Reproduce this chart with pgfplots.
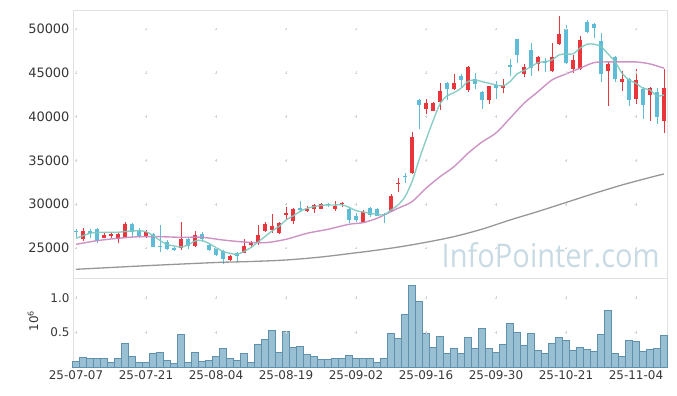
\documentclass[border=0pt]{standalone}
\usepackage{fontspec}
\setmainfont{DejaVu Sans}
\newfontfamily\wmfont{Open Sans}
\usepackage{pgfplots}
\pgfplotsset{compat=1.18}
\usepackage{pgfplotstable}
\definecolor{cup}{RGB}{232,54,60}
\definecolor{cdn}{RGB}{95,188,214}
\definecolor{maA}{RGB}{125,200,190}
\definecolor{maB}{RGB}{200,135,190}
\definecolor{maC}{RGB}{140,140,140}
\definecolor{framec}{RGB}{225,225,225}
\definecolor{gridc}{RGB}{212,212,212}
\definecolor{lbl}{RGB}{55,55,55}
\definecolor{volf}{RGB}{152,192,210}
\definecolor{vold}{RGB}{95,145,175}
\definecolor{wm}{RGB}{200,218,228}

\pgfplotstableread{
x o h l c
1 26030 27250 25830 26975
4 26180 26680 26110 26485
5 26400 26790 26140 26560
6 25990 26680 25530 26560
7 26290 27970 26150 27740
10 26370 27055 26140 26830
15 25030 28000 24800 26030
17 25260 26980 25150 26450
22 23660 24200 23550 24090
24 24460 26030 24390 25230
25 25340 25830 24960 25600
26 25600 27630 25340 26480
27 26975 28000 26860 27740
28 27055 28880 26680 27510
29 26680 28000 26600 27890
30 28800 29650 28300 29030
31 28120 29530 27740 29420
33 29190 29830 29080 29450
34 29490 30020 29030 29910
35 29490 30100 29420 30020
37 29420 30330 29260 29800
38 29990 30290 29650 30100
41 28000 29340 27890 29080
45 29260 31130 29140 30940
46 32310 32960 31430 32460
48 33560 38280 33450 37680
50 40870 42000 40270 41520
51 40650 41710 40590 41520
52 41710 43880 40760 42930
54 43160 44870 43040 43810
56 43040 45780 42850 45650
59 41900 43550 41440 43500
61 43240 44260 42670 43610
64 44870 46000 44560 45640
66 46010 46920 45250 46780
68 45160 48440 45100 46780
69 48260 51450 48200 49440
71 45440 47040 45020 46470
72 45440 49200 45300 48750
76 45250 46270 41250 46010
78 43960 45150 42960 44300
80 42020 45420 41440 44190
82 42470 43410 39540 43240
84 39540 45420 38170 43240
}\uptab

\pgfplotstableread{
x o h l c
0 26950 27130 26220 26780
2 26940 27200 26110 26680
3 27135 27250 25600 25830
8 27700 27800 26260 26860
9 27055 27320 26140 26370
11 26600 26750 25080 25150
12 25230 27660 24510 25150
13 25720 25910 24770 24850
14 24960 25100 24650 24820
16 26030 26100 24850 25260
18 26560 26790 25720 25990
19 25340 25460 24690 24770
20 25000 25150 24090 24200
21 24660 24770 23140 23740
23 24390 24510 23560 24120
32 29600 30330 29110 29340
36 30000 30170 29710 29870
39 29490 29710 27890 28200
40 28690 28960 27930 28200
42 29530 29710 28570 28770
43 29420 29530 28600 28650
44 28850 28960 27890 28750
47 33220 33600 32460 33070
49 41900 42000 38560 41330
53 43800 43900 41900 43160
55 44640 44870 43350 44190
57 44260 45030 43120 43730
58 42780 42900 40840 41900
60 43580 44100 42050 43240
62 45880 46550 44640 45700
63 48840 48900 46100 47040
65 47610 48440 44640 45520
67 46300 46660 45130 46150
70 49970 50460 46010 46100
73 50810 51040 49530 49700
74 50580 50650 48970 50160
75 48640 49530 44000 44870
77 46780 46920 43980 44260
79 44300 44400 41250 41900
81 43160 43350 39700 41360
83 42810 43230 39130 39930
}\dntab

\pgfplotstableread{
x v
0 0.086
1 0.143
2 0.129
3 0.129
4 0.129
5 0.071
6 0.129
7 0.343
8 0.157
9 0.071
10 0.071
11 0.200
12 0.214
13 0.100
14 0.057
15 0.471
16 0.071
17 0.214
18 0.086
19 0.100
20 0.157
21 0.271
22 0.129
23 0.100
24 0.200
25 0.071
26 0.329
27 0.400
28 0.529
29 0.214
30 0.514
31 0.286
32 0.300
33 0.186
34 0.157
35 0.114
36 0.114
37 0.129
38 0.129
39 0.171
40 0.129
41 0.129
42 0.129
43 0.071
44 0.129
45 0.486
46 0.414
47 0.757
48 1.176
49 0.943
50 0.486
51 0.286
52 0.443
53 0.200
54 0.271
55 0.200
56 0.429
57 0.271
58 0.557
59 0.271
60 0.214
61 0.329
62 0.629
63 0.500
64 0.314
65 0.486
66 0.243
67 0.200
68 0.343
69 0.429
70 0.386
71 0.243
72 0.286
73 0.257
74 0.229
75 0.471
76 0.814
77 0.200
78 0.157
79 0.386
80 0.371
81 0.229
82 0.257
83 0.271
84 0.457
}\voltab

\pgfplotstableread{
x m
0 26108
1 26405
2 26679
3 26770
4 26793
5 26793
6 26793
7 26884
8 26941
9 26976
10 26862
11 26428
12 25857
13 25400
14 25228
15 25114
16 25343
17 25799
18 25857
19 25514
20 25057
21 24600
22 24395
23 24281
24 24600
25 25057
26 25685
27 26313
28 26941
29 27455
30 28198
31 28654
32 29168
33 29534
34 29716
35 29854
36 29911
37 29911
38 29933
39 29648
40 29260
41 29111
42 28963
43 28849
44 28769
45 29340
46 29911
47 30859
48 32571
49 35050
50 37334
51 39503
52 41445
53 42358
54 42735
55 43238
56 44014
57 44186
58 43991
59 43808
60 43615
61 43500
62 43991
63 44871
64 45248
65 45705
66 46161
67 46275
68 46470
69 47041
70 47155
71 47155
72 47806
73 48263
74 48263
75 47989
76 47155
77 46275
78 44951
79 44186
80 43808
81 43238
82 43044
83 42358
84 42472
}\maAtab

\pgfplotstableread{
x m
0 25423
3 25834
6 26108
9 26290
12 26290
15 26222
18 26222
21 25914
24 25685
27 25605
30 25994
33 26679
36 27136
39 27707
41 27890
43 28392
45 29145
46 29534
48 30287
50 31818
52 33142
54 34284
56 35815
58 37105
60 38133
62 39811
64 41525
66 42849
68 44186
70 44871
72 45522
74 46161
76 46241
78 46241
80 46241
82 46013
84 45522
}\maBtab

\pgfplotstableread{
x m
0 22568
10 22979
20 23344
25 23458
30 23630
35 23972
40 24452
42 24650
46 25100
50 25650
54 26300
58 27150
62 28198
66 29168
70 30196
74 31224
78 32195
82 33051
84 33451
}\maCtab

\pgfplotsset{
  candle/.style n args={2}{only marks, mark=*, mark size=0pt,
    mark options={draw opacity=0, fill opacity=0}, forget plot,
    error bars/.cd, y dir=plus, y explicit, error mark=none,
    error bar style={line width=#1, draw=#2, solid}},
}

\begin{document}
\begin{tikzpicture}
\path[use as bounding box] (0,0) rectangle (677bp,-396bp);
\begin{axis}[
  at={(73bp,-10bp)}, anchor=north west,
  width=594bp, height=268bp, scale only axis,
  xmin=-0.43, xmax=84.43, ymin=21575, ymax=52169,
  xtick={0,10,20,30,40,50,60,70,80}, xticklabels={},
  ytick={25000,30000,35000,40000,45000,50000},
  scaled y ticks=false,
  major tick length=0pt,
  axis line style={draw=framec, line width=0.8bp},
  tick label style={font=\fontsize{13}{15}\selectfont, text=lbl},
  /pgf/number format/1000 sep={},
  /pgf/number format/assume math mode=true,
]
\pgfplotsinvokeforeach{25000,30000,35000,40000,45000,50000}{
  \addplot[only marks, mark=+, mark size=1.4bp, gridc, forget plot]
    coordinates {(0,#1)(10,#1)(20,#1)(30,#1)(40,#1)(50,#1)(60,#1)(70,#1)(80,#1)};
}
\node[anchor=base east, inner sep=0pt, text=wm] at (rel axis cs:0.988,0.041)
  {\resizebox{218bp}{25bp}{\wmfont InfoPointer.com}};
% wicks
\addplot[candle={1bp}{cup}]
  table[x=x, y=l, y error expr=\thisrow{h}-\thisrow{l}] {\uptab};
\addplot[candle={1bp}{cdn}]
  table[x=x, y=l, y error expr=\thisrow{h}-\thisrow{l}] {\dntab};
% bodies
\addplot[candle={4.8bp}{cup}]
  table[x=x, y=o, y error expr={max(\thisrow{c}-\thisrow{o},70)}] {\uptab};
\addplot[candle={4.8bp}{cdn}]
  table[x=x, y=c, y error expr={max(\thisrow{o}-\thisrow{c},70)}] {\dntab};
% moving averages
\addplot[maC, line width=1.3bp, smooth, mark=none, opacity=0.9] table[x=x,y=m] {\maCtab};
\addplot[maB, line width=1.4bp, smooth, mark=none, opacity=0.9] table[x=x,y=m] {\maBtab};
\addplot[maA, line width=1.4bp, smooth, mark=none, opacity=0.9] table[x=x,y=m] {\maAtab};
\end{axis}

\begin{axis}[
  at={(73bp,-278bp)}, anchor=north west,
  width=594bp, height=89bp, scale only axis,
  xmin=-0.43, xmax=84.43, ymin=0, ymax=1.285,
  xtick={0,10,20,30,40,50,60,70,80},
  xticklabels={25-07-07,25-07-21,25-08-04,25-08-19,25-09-02,25-09-16,25-09-30,25-10-21,25-11-04},
  ytick={0.5,1.0},
  scaled y ticks=false,
  yticklabel style={/pgf/number format/fixed, /pgf/number format/precision=1, /pgf/number format/fixed zerofill},
  major tick length=0pt,
  axis line style={draw=framec, line width=0.8bp},
  tick label style={font=\fontsize{12}{14}\selectfont, text=lbl},
  /pgf/number format/assume math mode=true,
  clip=false,
]
\pgfplotsinvokeforeach{0.5,1.0}{
  \addplot[only marks, mark=+, mark size=1.4bp, gridc, forget plot]
    coordinates {(0,#1)(10,#1)(20,#1)(30,#1)(40,#1)(50,#1)(60,#1)(70,#1)(80,#1)};
}
\addplot[ybar, bar width=6.6bp, bar shift=0pt, fill=volf, draw=vold, line width=0.5bp]
  table[x=x, y=v] {\voltab};
\node[rotate=90, text=lbl, font=\fontsize{12}{14}\selectfont, anchor=center]
  at (axis description cs:-0.0673,0.517) {10\textsuperscript{6}};
\end{axis}
\end{tikzpicture}
\end{document}
